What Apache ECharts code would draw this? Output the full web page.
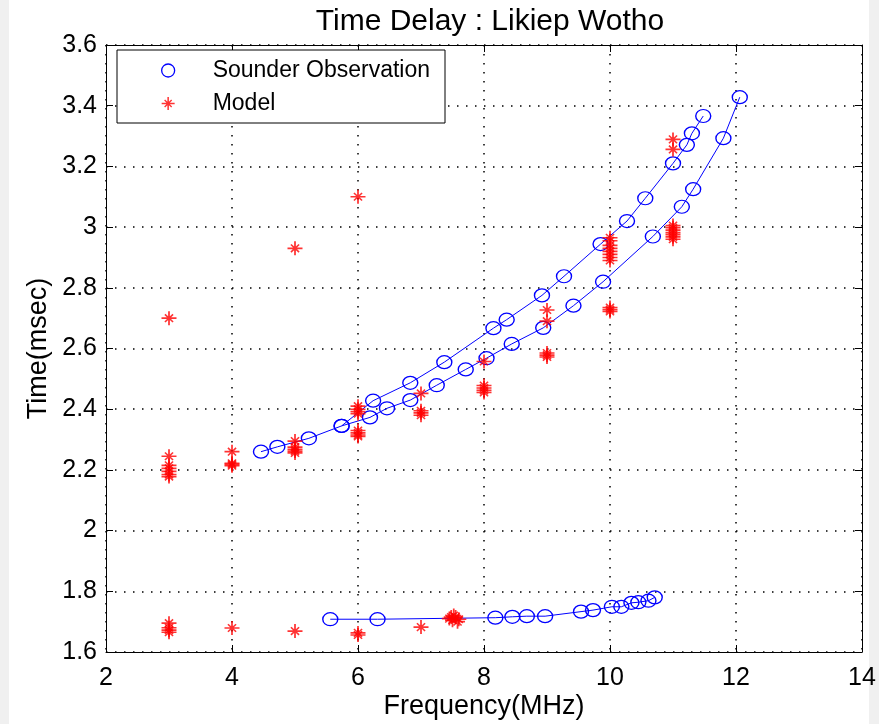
<!DOCTYPE html>
<html>
<head>
<meta charset="utf-8">
<script src="https://cdn.jsdelivr.net/npm/echarts@6/dist/echarts.min.js"></script>
<style>
html,body{margin:0;padding:0;background:#fff;}
#c{width:879px;height:724px;background:linear-gradient(to right,#f0f0f0 0,#f0f0f0 9px,#fff 9px,#fff 869px,#f0f0f0 869px);}
</style>
</head>
<body>
<div id="c"></div>
<script>
// ---- data ----
const title = 'Time Delay : Likiep Wotho';
const xTicks = [2, 4, 6, 8, 10, 12, 14];
const yTicks = [1.6, 1.8, 2, 2.2, 2.4, 2.6, 2.8, 3, 3.2, 3.4, 3.6];

// Sounder observation traces [frequency MHz, time msec]
const upperTrace = [[4.46,2.26],[4.72,2.276],[5.22,2.304],[5.74,2.345],[6.24,2.428],[6.83,2.487],[7.37,2.555],[8.15,2.667],[8.36,2.695],[8.92,2.775],[9.27,2.838],[9.85,2.944],[10.27,3.02],[10.56,3.095],[11.0,3.21],[11.22,3.271],[11.3,3.309],[11.48,3.366]];
const lowerTrace = [[5.74,2.345],[6.19,2.373],[6.46,2.403],[6.83,2.43],[7.25,2.479],[7.71,2.531],[8.04,2.568],[8.44,2.615],[8.94,2.668],[9.42,2.741],[9.89,2.82],[10.68,2.969],[11.14,3.067],[11.32,3.125],[11.8,3.293],[12.06,3.428]];
const bottomTrace = [[5.56,1.708],[6.31,1.708],[8.18,1.713],[8.45,1.716],[8.68,1.718],[8.97,1.718],[9.54,1.733],[9.73,1.738],[10.03,1.749],[10.18,1.749],[10.34,1.762],[10.45,1.764],[10.61,1.769],[10.71,1.78]];

// Model: times at each integer frequency
const modelFreqs = [3, 4, 5, 6, 7, 8, 9, 10, 11];
const modelTimes = [
  [2.70, 2.245, 2.215, 2.205, 2.195, 2.185, 2.178, 1.695, 1.68, 1.672, 1.665],
  [2.26, 2.222, 2.218, 2.214, 1.679],
  [2.93, 2.295, 2.275, 2.268, 2.262, 2.256, 1.669],
  [3.10, 2.41, 2.40, 2.392, 2.385, 2.33, 2.322, 2.315, 2.31, 1.663, 1.656],
  [2.452, 2.395, 2.388, 2.38, 1.682],
  [2.557, 2.478, 2.47, 2.462, 2.455],
  [2.727, 2.69, 2.585, 2.578, 2.572],
  [2.965, 2.955, 2.94, 2.93, 2.92, 2.91, 2.90, 2.89, 2.735, 2.728, 2.722],
  [3.289, 3.256, 3.005, 2.998, 2.99, 2.982, 2.975, 2.968, 2.96]
];
// Model cluster near 7.5 MHz
const modelCluster = [[7.45,1.71],[7.5,1.705],[7.55,1.715],[7.6,1.708],[7.52,1.72],[7.58,1.70],[7.48,1.715]];

// ---- build ----
const modelPoints = [];
modelFreqs.forEach((f, i) => modelTimes[i].forEach(t => modelPoints.push([f, t])));
modelCluster.forEach(p => modelPoints.push(p));

const star = 'path://M10.6 0h2.8v24h-2.8z M0 10.6h24v2.8h-24z M4.6 6.4L6.4 4.6L19.4 17.6L17.6 19.4Z M17.6 4.6L19.4 6.4L6.4 19.4L4.6 17.6Z M8.5 8.5h7v7h-7z';
const blue = '#0000ff';
const red = '#ff0000';
const font = 'Liberation Sans, Arial, sans-serif';

const obsSeries = [upperTrace, lowerTrace, bottomTrace].map(d => ({
  name: 'Sounder Observation',
  type: 'line',
  data: d,
  symbol: 'circle',
  symbolSize: [15, 13],
  showAllSymbol: true,
  lineStyle: {color: blue, width: 1},
  itemStyle: {color: 'rgba(0,0,0,0)', borderColor: blue, borderWidth: 1.3},
  z: 3
}));

const chart = echarts.init(document.getElementById('c'), null, {renderer: 'canvas'});
const gridLine = {show: true, lineStyle: {color: '#000', type: [1.5, 7.5], width: 1.5}};
const tick = {show: true, inside: true, length: 7, lineStyle: {color: '#000'}};
chart.setOption({
  backgroundColor: 'transparent',
  animation: false,
  title: {
    text: title, left: 485, top: 2, textAlign: 'center',
    textStyle: {fontFamily: font, fontSize: 30, fontWeight: 'normal', color: '#000'}
  },
  legend: {
    orient: 'vertical', left: 117, top: 50,
    padding: [9, 15, 8, 44],
    itemWidth: 15, itemHeight: 13, itemGap: 10,
    borderColor: '#000', borderWidth: 1, backgroundColor: '#fff',
    textStyle: {fontFamily: font, fontSize: 23, color: '#000', padding: [0, 0, 0, 32]},
    data: [
      {name: 'Sounder Observation', icon: 'circle', itemStyle: {color: 'rgba(0,0,0,0)', borderColor: blue, borderWidth: 1.3}},
      {name: 'Model', icon: star, itemStyle: {color: red}}
    ]
  },
  grid: {left: 106, right: 17, top: 45, bottom: 72, containLabel: false, outerBoundsMode: 'none'},
  xAxis: [{
    type: 'value', min: 2, max: 14, interval: 2,
    name: 'Frequency(MHz)', nameLocation: 'middle', nameGap: 41, nameMoveOverlap: false,
    nameTextStyle: {fontFamily: font, fontSize: 27, color: '#000'},
    axisLine: {show: true, lineStyle: {color: '#000', width: 1}},
    axisTick: tick,
    axisLabel: {fontFamily: font, fontSize: 25, color: '#000', margin: 14},
    splitLine: gridLine
  }, {
    type: 'value', min: 2, max: 14, interval: 2, position: 'top',
    axisLine: {show: true, onZero: false, lineStyle: {color: '#000', width: 1}},
    axisTick: tick, axisLabel: {show: false}, splitLine: {show: false}
  }],
  yAxis: [{
    type: 'value', min: 1.6, max: 3.6, interval: 0.2,
    name: 'Time(msec)', nameLocation: 'middle', nameGap: 54, nameMoveOverlap: false,
    nameTextStyle: {fontFamily: font, fontSize: 27, color: '#000'},
    axisLine: {show: true, lineStyle: {color: '#000', width: 1}},
    axisTick: tick,
    axisLabel: {fontFamily: font, fontSize: 25, color: '#000', margin: 9},
    splitLine: gridLine
  }, {
    type: 'value', min: 1.6, max: 3.6, interval: 0.2, position: 'right',
    axisLine: {show: true, onZero: false, lineStyle: {color: '#000', width: 1}},
    axisTick: tick, axisLabel: {show: false}, splitLine: {show: false}
  }],
  series: obsSeries.concat([{
    name: 'Model',
    type: 'scatter',
    data: modelPoints,
    symbol: star,
    symbolSize: [15, 14],
    itemStyle: {color: red},
    z: 4
  }])
});
</script>
</body>
</html>
